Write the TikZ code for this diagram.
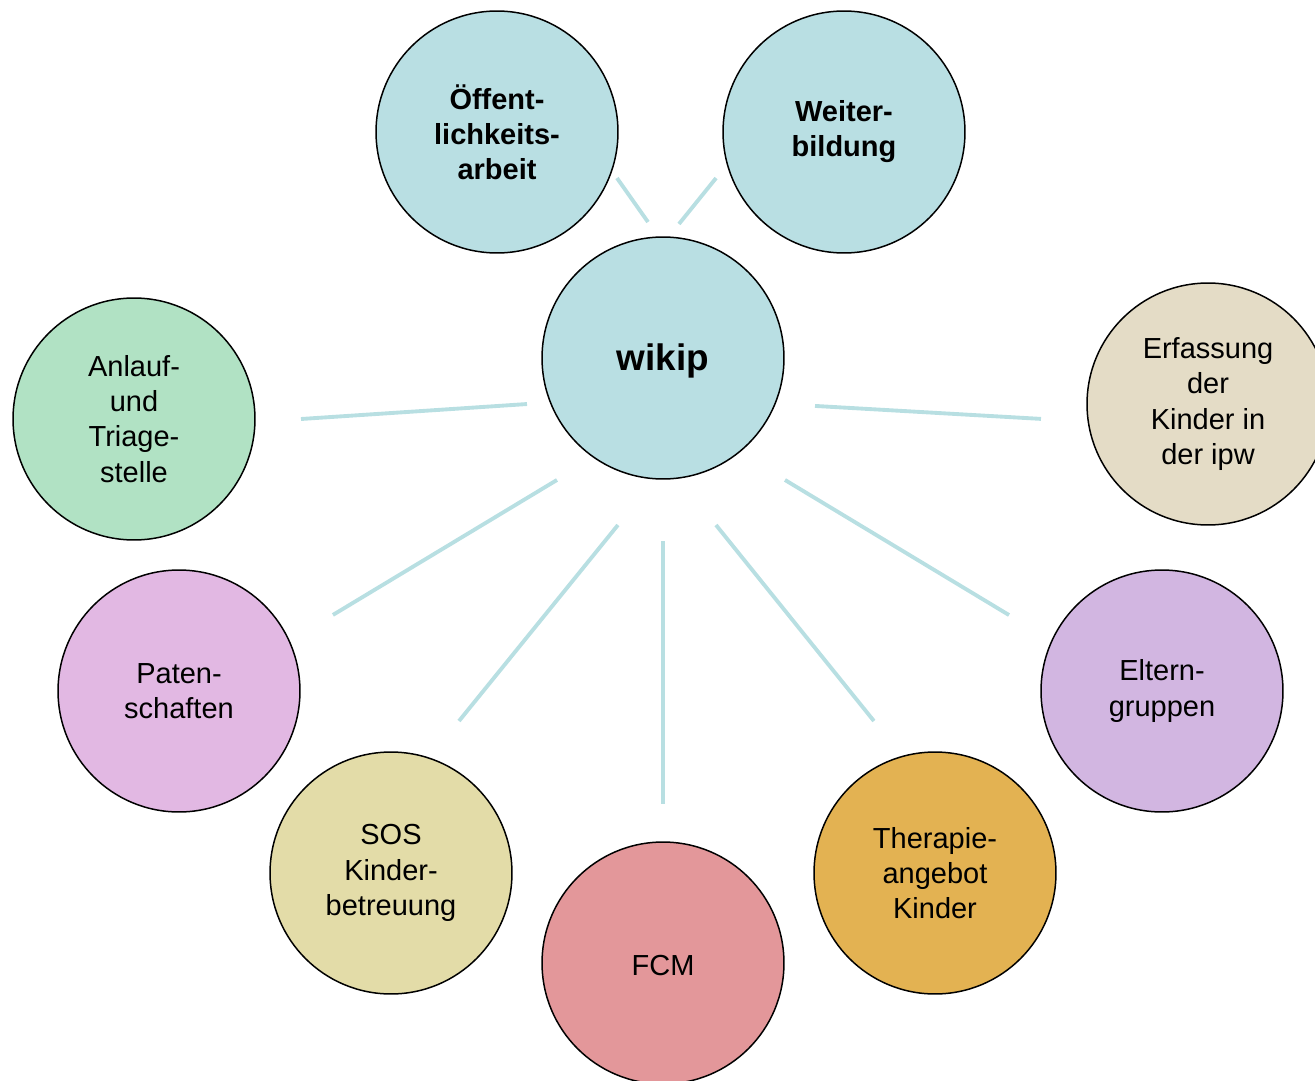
\documentclass[tikz,border=0pt]{standalone}
\usepackage{fontspec}
\setmainfont{Liberation Sans}
\usetikzlibrary{calc}
\definecolor{cblue}{HTML}{B9DFE3}
\definecolor{cgreen}{HTML}{B1E2C4}
\definecolor{cbeige}{HTML}{E4DCC6}
\definecolor{cpink}{HTML}{E2B8E3}
\definecolor{clilac}{HTML}{D2B6E1}
\definecolor{csos}{HTML}{E3DCA8}
\definecolor{cfcm}{HTML}{E3979A}
\definecolor{ctherapy}{HTML}{E3B252}
\definecolor{clink}{HTML}{B8DFE2}
\begin{document}
\begin{tikzpicture}[x=0.02cm,y=0.02cm,
  bubble/.style={circle,draw=black,line width=0.85pt,minimum size=4.84cm,inner sep=0pt,
    align=center,font=\fontsize{16.5}{20}\selectfont,
    execute at begin node={\rule{0pt}{0.9em}}},
  boldbubble/.style={bubble,font=\fontsize{16.5}{20}\selectfont\bfseries},
  link/.style={draw=clink,line width=2.2pt}]
\useasboundingbox (0,0) rectangle (1315,-1081);
\node[boldbubble,fill=cblue,font=\fontsize{21}{24}\selectfont\bfseries] (wikip) at (663,-358) {wikip};
\node[boldbubble,fill=cblue] (oeff) at (497,-132) {Öffent-\\lichkeits-\\arbeit};
\node[boldbubble,fill=cblue] (weiter) at (844,-132) {Weiter-\\bildung};
\node[bubble,fill=cgreen] (anlauf) at (134,-419) {Anlauf-\\und\\Triage-\\stelle};
\node[bubble,fill=cbeige] (erfassung) at (1208,-404) {Erfassung\\der\\Kinder in\\der ipw};
\node[bubble,fill=cpink] (paten) at (179,-691) {Paten-\\schaften};
\node[bubble,fill=clilac] (eltern) at (1162,-691) {Eltern-\\gruppen};
\node[bubble,fill=csos] (sos) at (391,-873) {SOS\\Kinder-\\betreuung};
\node[bubble,fill=ctherapy] (therapie) at (935,-873) {Therapie-\\angebot\\Kinder};
\node[bubble,fill=cfcm] (fcm) at (663,-963) {FCM};
% connectors (end points placed relative to the node centres)
\draw[link] ($(wikip)+(96.3:136.8)$) -- ($(oeff)+(-21:128.5)$);
\draw[link] ($(wikip)+(83.2:135)$) -- ($(weiter)+(199.8:136)$);
\draw[link] ($(wikip)+(198.7:143.6)$) -- ($(anlauf)+(0:167)$);
\draw[link] ($(wikip)+(-17.5:159.4)$) -- ($(erfassung)+(185.1:167.7)$);
\draw[link] ($(wikip)+(229:161.6)$) -- ($(paten)+(26.3:171.7)$);
\draw[link] ($(wikip)+(-45:172.5)$) -- ($(eltern)+(153.6:170.8)$);
\draw[link] ($(wikip)+(254.9:173)$) -- ($(sos)+(65.9:166.5)$);
\draw[link] ($(wikip)+(-72.4:175.2)$) -- ($(therapie)+(111.9:163.8)$);
\draw[link] ($(wikip)+(-90:183)$) -- ($(fcm)+(90:159)$);
\end{tikzpicture}
\end{document}
